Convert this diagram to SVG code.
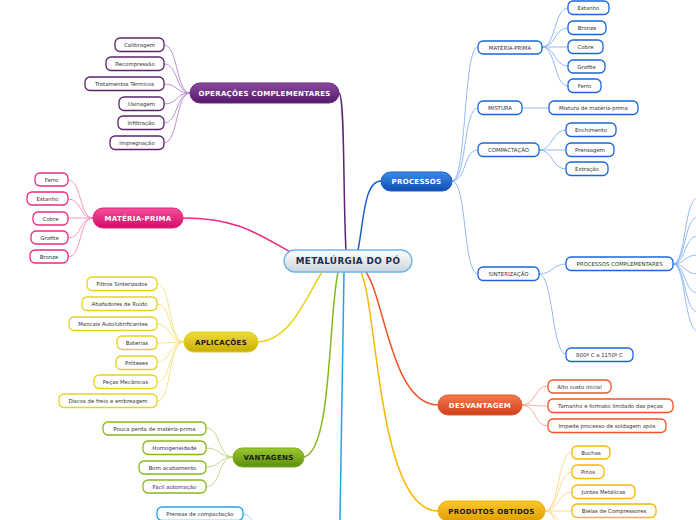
<svg xmlns="http://www.w3.org/2000/svg" width="696" height="520" viewBox="0 0 696 520">
<defs>
<linearGradient id="gCenter" x1="0" y1="0" x2="0" y2="1"><stop offset="0" stop-color="#ffffff"/><stop offset="1" stop-color="#c9d3dd"/></linearGradient>
<linearGradient id="gPurple" x1="0" y1="0" x2="0" y2="1"><stop offset="0" stop-color="#8a4aa0"/><stop offset="1" stop-color="#55186a"/></linearGradient>
<linearGradient id="gPink" x1="0" y1="0" x2="0" y2="1"><stop offset="0" stop-color="#f6509a"/><stop offset="1" stop-color="#d40c68"/></linearGradient>
<linearGradient id="gYellow" x1="0" y1="0" x2="0" y2="1"><stop offset="0" stop-color="#efdc3a"/><stop offset="1" stop-color="#c9ad04"/></linearGradient>
<linearGradient id="gGreen" x1="0" y1="0" x2="0" y2="1"><stop offset="0" stop-color="#9cc830"/><stop offset="1" stop-color="#5a8e0c"/></linearGradient>
<linearGradient id="gBlue" x1="0" y1="0" x2="0" y2="1"><stop offset="0" stop-color="#3c8ae8"/><stop offset="1" stop-color="#0f4fb0"/></linearGradient>
<linearGradient id="gRed" x1="0" y1="0" x2="0" y2="1"><stop offset="0" stop-color="#f47a50"/><stop offset="1" stop-color="#cf3f1c"/></linearGradient>
<linearGradient id="gOrange" x1="0" y1="0" x2="0" y2="1"><stop offset="0" stop-color="#fbc72c"/><stop offset="1" stop-color="#e09f00"/></linearGradient>
</defs>
<style>
.c{fill:#fff;stroke-width:1.3}
.t{font-family:"DejaVu Sans",Verdana,sans-serif;font-size:5.4px;fill:#333;text-anchor:middle}
.m{font-family:"DejaVu Sans",Verdana,sans-serif;font-size:7px;font-weight:bold;text-anchor:middle;letter-spacing:0.3px}
.w{fill:#fff}
.d{fill:#1a1a1a}
.pu{stroke:#5e2470}.pi{stroke:#ec2a7e}.ye{stroke:#e8d21e}.gr{stroke:#86b81c}.cy{stroke:#22a4e6}.bl{stroke:#1a66d9}.re{stroke:#ef5426}.or{stroke:#f6b800}
.l{fill:none;stroke-width:0.9}
.L{fill:none;stroke-width:1.5}
</style>

<g id="connectors">
<!-- main branches -->
<path class="L" stroke="#5e2470" d="M339,93 C345,95 343,200 346,250"/>
<path class="L" stroke="#ec2a7e" d="M183,218 C235,218 255,232 292,253"/>
<path class="L" stroke="#1a5fcf" d="M358,250 C364,220 364,181 381,181"/>
<path class="L" stroke="#e8d21e" d="M258,342 C290,340 305,300 322,272"/>
<path class="L" stroke="#86b81c" d="M304,457 C332,450 328,320 338,272"/>
<path class="L" stroke="#22a4e6" d="M344,272 C343,380 341,450 340,520"/>
<path class="L" stroke="#ef5426" d="M366,272 C385,300 392,405 438,405"/>
<path class="L" stroke="#f6b800" d="M361,272 C378,310 378,511 438,511"/>
<!-- purple children -->
<g stroke="#b485c6">
<path class="l" d="M190,93 C176,93 178,45 164,45"/>
<path class="l" d="M190,93 C176,93 178,64 164,64"/>
<path class="l" d="M190,93 C176,93 178,84 164,84"/>
<path class="l" d="M190,93 C176,93 178,104 164,104"/>
<path class="l" d="M190,93 C176,93 178,123 164,123"/>
<path class="l" d="M190,93 C176,93 178,143 164,143"/>
</g>
<!-- pink children -->
<g stroke="#f78ab8">
<path class="l" d="M93,218 C79,218 82,180 68,180"/>
<path class="l" d="M93,218 C79,218 82,199 68,199"/>
<path class="l" d="M93,218 C79,218 82,218 68,218"/>
<path class="l" d="M93,218 C79,218 82,238 68,238"/>
<path class="l" d="M93,218 C79,218 82,257 68,257"/>
</g>
<!-- yellow children -->
<g stroke="#f0e27a">
<path class="l" d="M184,342 C168,342 172,284 157,284"/>
<path class="l" d="M184,342 C168,342 172,304 157,304"/>
<path class="l" d="M184,342 C168,342 172,324 157,324"/>
<path class="l" d="M184,342 C168,342 172,343 157,343"/>
<path class="l" d="M184,342 C168,342 172,362 157,362"/>
<path class="l" d="M184,342 C168,342 172,382 157,382"/>
<path class="l" d="M184,342 C168,342 172,401 157,401"/>
</g>
<!-- green children -->
<g stroke="#b8d878">
<path class="l" d="M233,457 C218,457 221,428 206,428"/>
<path class="l" d="M233,457 C218,457 221,448 206,448"/>
<path class="l" d="M233,457 C218,457 221,467 206,467"/>
<path class="l" d="M233,457 C218,457 221,487 206,487"/>
</g>
<!-- cyan child -->
<path class="l" stroke="#8ccdf0" d="M243,514 C252,514 254,528 262,530"/>
<!-- processos children -->
<g stroke="#86b2f0">
<path class="l" d="M452,181 C467,181 463,47 478,47"/>
<path class="l" d="M452,181 C467,181 463,108 478,108"/>
<path class="l" d="M452,181 C467,181 463,150 478,150"/>
<path class="l" d="M452,181 C467,181 463,274 478,274"/>
<path class="l" d="M542,47 C556,47 554,8 568,8"/>
<path class="l" d="M542,47 C556,47 554,28 568,28"/>
<path class="l" d="M542,47 C556,47 554,47 568,47"/>
<path class="l" d="M542,47 C556,47 554,66 568,66"/>
<path class="l" d="M542,47 C556,47 554,86 568,86"/>
<path class="l" d="M522,108 L549,108"/>
<path class="l" d="M539,150 C553,150 552,130 566,130"/>
<path class="l" d="M539,150 C553,150 552,150 566,150"/>
<path class="l" d="M539,150 C553,150 552,169 566,169"/>
<path class="l" d="M539,274 C553,274 552,264 566,264"/>
<path class="l" d="M539,274 C553,274 552,354 566,354"/>
<path class="l" d="M673,264 C686,264 684,198 698,198"/>
<path class="l" d="M673,264 C686,264 684,217 698,217"/>
<path class="l" d="M673,264 C686,264 684,236 698,236"/>
<path class="l" d="M673,264 C686,264 684,255 698,255"/>
<path class="l" d="M673,264 C686,264 684,274 698,274"/>
<path class="l" d="M673,264 C686,264 684,293 698,293"/>
<path class="l" d="M673,264 C686,264 684,312 698,312"/>
<path class="l" d="M673,264 C686,264 684,331 698,331"/>
</g>
<!-- red children -->
<g stroke="#f7a58a">
<path class="l" d="M522,405 C536,405 534,386 548,386"/>
<path class="l" d="M522,405 C536,405 534,406 548,406"/>
<path class="l" d="M522,405 C536,405 534,426 548,426"/>
</g>
<!-- orange children -->
<g stroke="#f9d680">
<path class="l" d="M545,511 C559,511 558,452 572,452"/>
<path class="l" d="M545,511 C559,511 558,472 572,472"/>
<path class="l" d="M545,511 C559,511 558,492 572,492"/>
<path class="l" d="M545,511 C559,511 558,511 572,511"/>
<path class="l" d="M545,511 C559,511 558,531 572,531"/>
<path class="l" d="M545,511 C559,511 558,551 572,551"/>
</g>
</g>

<!-- center -->
<g id="n-center">
<rect x="284" y="250" width="128" height="22" rx="11" fill="url(#gCenter)" stroke="#6eb2e2" stroke-width="1.3"/>
<text x="348" y="264.3" font-family="DejaVu Sans,Verdana,sans-serif" font-size="8.8" font-weight="bold" fill="#1b2b4d" text-anchor="middle" letter-spacing="0.4">METALÚRGIA DO PÓ</text>
</g>

<!-- main nodes -->
<g id="n-ops"><rect x="190" y="83" width="149" height="20" rx="10" fill="url(#gPurple)" stroke="#6a2a80" stroke-width="1"/><text class="m w" x="264.5" y="95.5">OPERAÇÕES COMPLEMENTARES</text></g>
<g id="n-mp"><rect x="93" y="208" width="90" height="20" rx="10" fill="url(#gPink)" stroke="#e0207a" stroke-width="1"/><text class="m w" x="138" y="220.5">MATÉRIA-PRIMA</text></g>
<g id="n-apl"><rect x="184" y="332" width="74" height="20" rx="10" fill="url(#gYellow)" stroke="#e2cc20" stroke-width="1"/><text class="m d" x="221" y="344.5">APLICAÇÕES</text></g>
<g id="n-van"><rect x="233" y="448" width="71" height="19" rx="9.5" fill="url(#gGreen)" stroke="#7aac18" stroke-width="1"/><text class="m d" x="268.5" y="460">VANTAGENS</text></g>
<g id="n-proc"><rect x="381" y="172" width="71" height="19" rx="9.5" fill="url(#gBlue)" stroke="#1a5fcf" stroke-width="1"/><text class="m w" x="416.5" y="184">PROCESSOS</text></g>
<g id="n-desv"><rect x="438" y="395" width="84" height="20" rx="10" fill="url(#gRed)" stroke="#e0562c" stroke-width="1"/><text class="m w" x="480" y="407.5">DESVANTAGEM</text></g>
<g id="n-prod"><rect x="438" y="501" width="107" height="20" rx="10" fill="url(#gOrange)" stroke="#f0b000" stroke-width="1"/><text class="m d" x="491.5" y="513.5">PRODUTOS OBTIDOS</text></g>

<!-- purple children -->
<g id="n-ops-1"><rect class="c pu" x="115" y="38" width="49" height="13.5" rx="5"/><text class="t" x="139.5" y="46.8">Calibragem</text></g>
<g id="n-ops-2"><rect class="c pu" x="106" y="57" width="58" height="13.5" rx="5"/><text class="t" x="135" y="65.8">Recompressão</text></g>
<g id="n-ops-3"><rect class="c pu" x="85" y="77" width="79" height="13.5" rx="5"/><text class="t" x="124.5" y="85.8">Tratamentos Térmicos</text></g>
<g id="n-ops-4"><rect class="c pu" x="119" y="97" width="45" height="13.5" rx="5"/><text class="t" x="141.5" y="105.8">Usinagem</text></g>
<g id="n-ops-5"><rect class="c pu" x="118" y="116" width="46" height="13.5" rx="5"/><text class="t" x="141" y="124.8">Infiltração</text></g>
<g id="n-ops-6"><rect class="c pu" x="110" y="136" width="54" height="13.5" rx="5"/><text class="t" x="137" y="144.8">Impregnação</text></g>

<!-- pink children -->
<g id="n-mp-1"><rect class="c pi" x="35" y="173" width="33" height="13" rx="5"/><text class="t" x="51.5" y="181.6">Ferro</text></g>
<g id="n-mp-2"><rect class="c pi" x="27" y="192" width="41" height="13" rx="5"/><text class="t" x="47.5" y="200.6">Estanho</text></g>
<g id="n-mp-3"><rect class="c pi" x="33" y="212" width="35" height="13" rx="5"/><text class="t" x="50.5" y="220.6">Cobre</text></g>
<g id="n-mp-4"><rect class="c pi" x="31" y="231" width="37" height="13" rx="5"/><text class="t" x="49.5" y="239.6">Grafite</text></g>
<g id="n-mp-5"><rect class="c pi" x="30" y="250" width="38" height="13" rx="5"/><text class="t" x="49" y="258.6">Bronze</text></g>

<!-- yellow children -->
<g id="n-apl-1"><rect class="c ye" x="87" y="277" width="70" height="13.5" rx="5"/><text class="t" x="122" y="285.8">Filtros Sinterizados</text></g>
<g id="n-apl-2"><rect class="c ye" x="82" y="297" width="75" height="13.5" rx="5"/><text class="t" x="119.5" y="305.8">Abafadores de Ruído</text></g>
<g id="n-apl-3"><rect class="c ye" x="69" y="317" width="88" height="13.5" rx="5"/><text class="t" x="113" y="325.8">Mancais Autolubrificantes</text></g>
<g id="n-apl-4"><rect class="c ye" x="117" y="336" width="40" height="13.5" rx="5"/><text class="t" x="137" y="344.8">Baterias</text></g>
<g id="n-apl-5"><rect class="c ye" x="116" y="356" width="41" height="13.5" rx="5"/><text class="t" x="136.5" y="364.8">Próteses</text></g>
<g id="n-apl-6"><rect class="c ye" x="94" y="375" width="63" height="13.5" rx="5"/><text class="t" x="125.5" y="383.8">Peças Mecânicas</text></g>
<g id="n-apl-7"><rect class="c ye" x="59" y="394" width="98" height="13.5" rx="5"/><text class="t" x="108" y="402.8">Discos de freio e embreagem</text></g>

<!-- green children -->
<g id="n-van-1"><rect class="c gr" x="103" y="422" width="103" height="13" rx="5"/><text class="t" x="154.5" y="430.6">Pouca perda de matéria-prima</text></g>
<g id="n-van-2"><rect class="c gr" x="143" y="441" width="63" height="13.5" rx="5"/><text class="t" x="174.5" y="449.8">Homogeneidade</text></g>
<g id="n-van-3"><rect class="c gr" x="139" y="461" width="67" height="13" rx="5"/><text class="t" x="172.5" y="469.6">Bom acabamento</text></g>
<g id="n-van-4"><rect class="c gr" x="143" y="480" width="63" height="13" rx="5"/><text class="t" x="174.5" y="488.6">Fácil automação</text></g>

<!-- cyan child -->
<g id="n-cy-1"><rect class="c cy" x="157" y="507" width="86" height="13.5" rx="5"/><text class="t" x="200" y="515.8">Prensas de compactação</text></g>

<!-- processos level 2 -->
<g id="n-proc-1"><rect class="c bl" x="478" y="41" width="64" height="13" rx="5"/><text class="t" x="510" y="49.6">MATÉRIA-PRIMA</text></g>
<g id="n-proc-2"><rect class="c bl" x="478" y="101" width="44" height="13.5" rx="5"/><text class="t" x="500" y="109.8">MISTURA</text></g>
<g id="n-proc-3"><rect class="c bl" x="478" y="143" width="61" height="13.5" rx="5"/><text class="t" x="508.5" y="151.8">COMPACTAÇÃO</text></g>
<g id="n-proc-4"><rect class="c bl" x="478" y="267" width="61" height="13.5" rx="5"/><text class="t" x="508.5" y="275.8">SINTERIZAÇÃO</text></g>

<!-- processos level 3 -->
<g id="n-mp2-1"><rect class="c bl" x="568" y="1" width="41" height="13.5" rx="5"/><text class="t" x="588.5" y="9.8">Estanho</text></g>
<g id="n-mp2-2"><rect class="c bl" x="568" y="21" width="38" height="13.5" rx="5"/><text class="t" x="587" y="29.8">Bronze</text></g>
<g id="n-mp2-3"><rect class="c bl" x="568" y="40" width="35" height="13.5" rx="5"/><text class="t" x="585.5" y="48.8">Cobre</text></g>
<g id="n-mp2-4"><rect class="c bl" x="568" y="60" width="37" height="13" rx="5"/><text class="t" x="586.5" y="68.6">Grafite</text></g>
<g id="n-mp2-5"><rect class="c bl" x="568" y="79" width="33" height="13.5" rx="5"/><text class="t" x="584.5" y="87.8">Ferro</text></g>
<g id="n-mis-1"><rect class="c bl" x="549" y="101" width="89" height="13.5" rx="5"/><text class="t" x="593.5" y="109.8">Mistura de matéria-prima</text></g>
<g id="n-comp-1"><rect class="c bl" x="566" y="123" width="50" height="13.5" rx="5"/><text class="t" x="591" y="131.8">Enchimento</text></g>
<g id="n-comp-2"><rect class="c bl" x="566" y="143" width="48" height="13.5" rx="5"/><text class="t" x="590" y="151.8">Prensagem</text></g>
<g id="n-comp-3"><rect class="c bl" x="566" y="162" width="42" height="13.5" rx="5"/><text class="t" x="587" y="170.8">Extração</text></g>
<g id="n-sin-1"><rect class="c bl" x="566" y="257" width="107" height="13.5" rx="5"/><text class="t" x="619.5" y="265.8">PROCESSOS COMPLEMENTARES</text></g>
<g id="n-sin-2"><rect class="c bl" x="566" y="348" width="67" height="13.5" rx="5"/><text class="t" x="599.5" y="356.8">800º C a 1150º C</text></g>

<!-- desvantagem children -->
<g id="n-desv-1"><rect class="c re" x="548" y="380" width="63" height="13" rx="5"/><text class="t" x="579.5" y="388.6">Alto custo inicial</text></g>
<g id="n-desv-2"><rect class="c re" x="548" y="399" width="125" height="13.5" rx="5"/><text class="t" x="610.5" y="407.8">Tamanho e formato limitado das peças</text></g>
<g id="n-desv-3"><rect class="c re" x="548" y="419" width="118" height="13.5" rx="5"/><text class="t" x="607" y="427.8">Impede processo de soldagem após</text></g>

<!-- produtos children -->
<g id="n-prod-1"><rect class="c or" x="572" y="446" width="38" height="13" rx="5"/><text class="t" x="591" y="454.6">Buchas</text></g>
<g id="n-prod-2"><rect class="c or" x="572" y="465" width="32" height="13.5" rx="5"/><text class="t" x="588" y="473.8">Pinos</text></g>
<g id="n-prod-3"><rect class="c or" x="572" y="485" width="63" height="13.5" rx="5"/><text class="t" x="603.5" y="493.8">Juntas Metálicas</text></g>
<g id="n-prod-4"><rect class="c or" x="572" y="504" width="84" height="13.5" rx="5"/><text class="t" x="614" y="512.8">Bielas de Compressores</text></g>
</svg>
